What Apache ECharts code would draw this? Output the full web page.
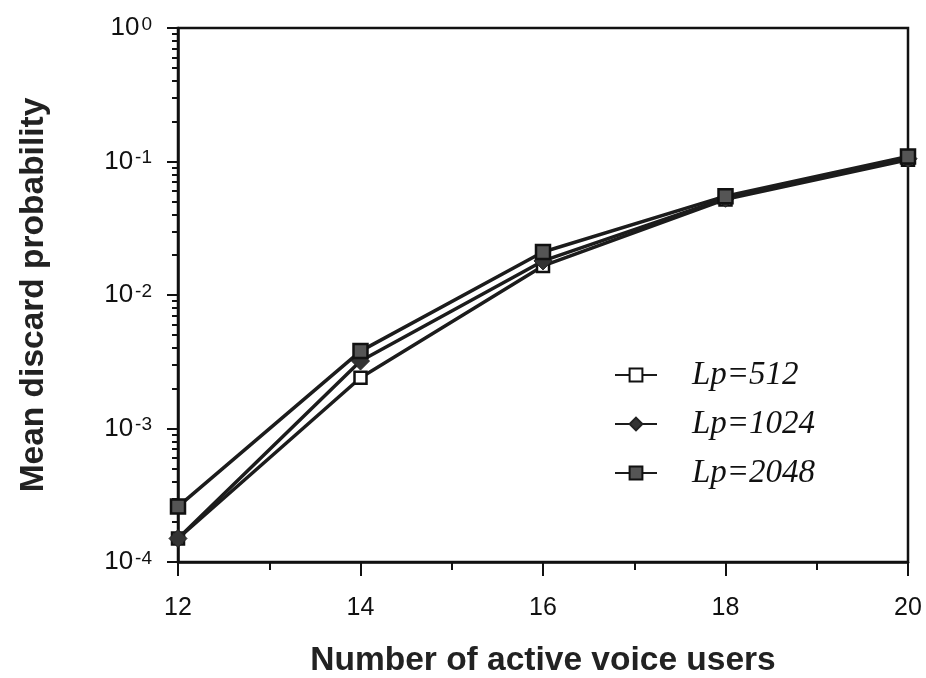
<!DOCTYPE html>
<html>
<head>
<meta charset="utf-8">
<script src="https://cdn.jsdelivr.net/npm/echarts@6/dist/echarts.min.js"></script>
<style>
html,body{margin:0;padding:0;background:#fff;}
#chart{width:926px;height:678px;}
</style>
</head>
<body>
<div id="chart"></div>
<script>
// ---- data ----
var users = [12, 14, 16, 18, 20];
var lp512 = [1.5e-4, 2.4e-3, 0.0165, 0.052, 0.103];
var lp1024 = [1.5e-4, 3.2e-3, 0.018, 0.053, 0.105];
var lp2048 = [2.6e-4, 3.8e-3, 0.021, 0.055, 0.109];
var seriesNames = ['Lp=512', 'Lp=1024', 'Lp=2048'];
var xTicks = [12, 14, 16, 18, 20];
var yDecades = [1e-4, 1e-3, 1e-2, 1e-1, 1];
var minorMultipliers = [2, 3, 4, 5, 6, 7, 8, 9];

var yMinor = [];
for (var i = 0; i < yDecades.length - 1; i++) {
  for (var j = 0; j < minorMultipliers.length; j++) {
    yMinor.push(yDecades[i] * minorMultipliers[j]);
  }
}

function pairs(xs, ys) { return xs.map(function (x, i) { return [x, ys[i]]; }); }

var chart = echarts.init(document.getElementById('chart'), null, {renderer: 'canvas'});
var lineCol = '#1c1c1c';
var sans = 'Liberation Sans, Arial, sans-serif';

var option = {
  backgroundColor: '#ffffff',
  animation: false,
  grid: {left: 178, right: 18, top: 28, bottom: 116, outerBoundsMode: 'none', containLabel: false, show: true, borderColor: '#111', borderWidth: 2.5, backgroundColor: 'transparent'},
  legend: {
    orient: 'vertical',
    left: 609,
    top: 343,
    itemWidth: 42,
    itemHeight: 16,
    itemGap: -5,
    data: seriesNames,
    textStyle: {fontFamily: 'Liberation Serif, Times New Roman, serif', fontStyle: 'italic', fontSize: 33, color: '#111', padding: [20, 0, 0, 30], lineHeight: 34}
  },
  xAxis: {
    type: 'value', min: 12, max: 20, interval: 2,
    name: 'Number of active voice users', nameLocation: 'middle', nameGap: 82,
    nameTextStyle: {fontFamily: sans, fontWeight: 'bold', fontSize: 33.5, color: '#222'},
    axisLine: {show: true, lineStyle: {color: '#111', width: 2.5}},
    axisTick: {show: true, inside: false, length: 14, lineStyle: {color: '#111', width: 2}, customValues: xTicks},
    minorTick: {show: true, splitNumber: 2, length: 8, lineStyle: {color: '#111', width: 2}},
    splitLine: {show: false},
    axisLabel: {fontFamily: sans, fontSize: 25, color: '#111', margin: 34, customValues: xTicks}
  },
  yAxis: [{
    type: 'log', logBase: 10, min: 1e-4, max: 1,
    name: 'Mean discard probability', nameLocation: 'middle', nameGap: 127,
    nameTextStyle: {fontFamily: sans, fontWeight: 'bold', fontSize: 33.5, color: '#222'},
    axisLine: {show: true, lineStyle: {color: '#111', width: 2.5}},
    axisTick: {show: true, inside: false, length: 11, lineStyle: {color: '#111', width: 2}, customValues: yDecades},
    splitLine: {show: false},
    axisLabel: {
      margin: 26, customValues: yDecades,
      formatter: function (v) {
        var e = Math.round(Math.log(v) / Math.LN10);
        return '{b|10}{s|' + (e === 0 ? '0' : String(e)) + '}';
      },
      rich: {
        b: {fontFamily: sans, fontSize: 26, color: '#111', lineHeight: 26, verticalAlign: 'bottom'},
        s: {fontFamily: sans, fontSize: 19, color: '#111', lineHeight: 19, verticalAlign: 'top', padding: [0, 0, 14, 2]}
      }
    }
  }, {
    type: 'log', logBase: 10, min: 1e-4, max: 1, position: 'left',
    axisLine: {show: false},
    axisTick: {show: true, inside: false, length: 6, lineStyle: {color: '#111', width: 2}, customValues: yMinor},
    axisLabel: {show: false},
    splitLine: {show: false}
  }],
  series: [{
    name: seriesNames[0], type: 'line', data: pairs(users, lp512),
    symbol: 'rect', symbolSize: 12,
    lineStyle: {color: lineCol, width: 3.5},
    itemStyle: {color: '#ffffff', borderColor: '#111', borderWidth: 2.5},
    z: 2
  }, {
    name: seriesNames[1], type: 'line', data: pairs(users, lp1024),
    symbol: 'diamond', symbolSize: 18,
    lineStyle: {color: lineCol, width: 3.5},
    itemStyle: {color: '#333', borderColor: '#222', borderWidth: 1},
    z: 3
  }, {
    name: seriesNames[2], type: 'line', data: pairs(users, lp2048),
    symbol: 'rect', symbolSize: 14,
    lineStyle: {color: lineCol, width: 3.5},
    itemStyle: {color: '#555', borderColor: '#111', borderWidth: 2.5},
    z: 4
  }]
};
chart.setOption(option);
</script>
</body>
</html>
